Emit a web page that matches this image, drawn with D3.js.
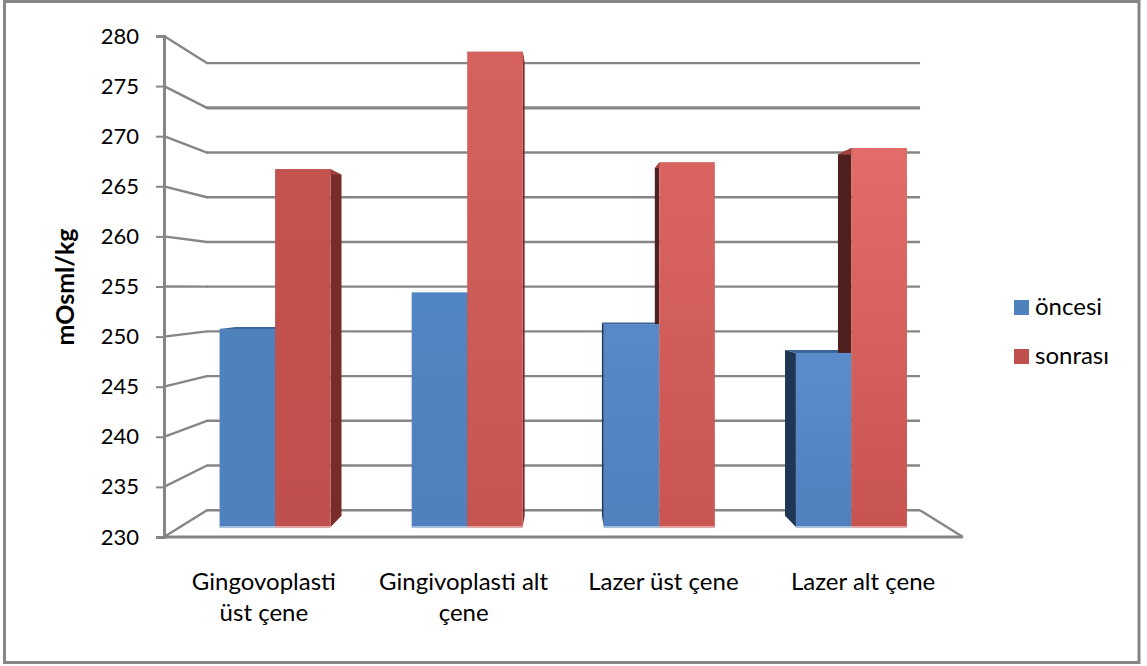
<!DOCTYPE html>
<html>
<head>
<meta charset="utf-8">
<script src="https://cdn.jsdelivr.net/npm/d3@7/dist/d3.min.js"></script>
<style>
html, body { margin: 0; padding: 0; background: #fff; }
svg { display: block; }
text { font-family: Lato, "Open Sans", sans-serif; fill: #000; }
</style>
</head>
<body>
<svg id="chart" width="1147" height="666"></svg>
<script>
// Osmolality before and after treatment, by procedure and jaw.
const categories = ["Gingovoplasti üst çene", "Gingivoplasti alt çene", "Lazer üst çene", "Lazer alt çene"];
const categoryLines = [["Gingovoplasti", "üst çene"], ["Gingivoplasti alt", "çene"], ["Lazer üst çene"], ["Lazer alt çene"]];
const seriesNames = ["öncesi", "sonrası"];
const oncesi = [250.6, 254.4, 251.1, 248.1];
const sonrasi = [267.2, 279.4, 267.9, 269.4];
const yTicks = [230, 235, 240, 245, 250, 255, 260, 265, 270, 275, 280];
const axisTitle = "mOsml/kg";

const svg = d3.select("#chart");

// Scales live on the front plane of the 3-D box; project() pushes them into depth.
const x0 = d3.scaleBand().domain(categories).range([163, 963.5]).paddingInner(0.422).paddingOuter(0.211);
const x1 = d3.scaleBand().domain(seriesNames).range([0, x0.bandwidth()]);
const y = d3.scaleLinear().domain([230, 280]).range([537, 36]);

const vanishX = 563.5, vanishY = 288;
const depthWall = 0.1075, depthBarFront = 0.04, depthBarBack = 0.085;
const project = (px, py, t) => [px + t * (vanishX - px), py + t * (vanishY - py)];
const poly = pts => pts.map(p => p.join(",")).join(" ");

// Outer frame
svg.append("rect").attr("x", 4.5).attr("y", 1.5).attr("width", 1134.5).attr("height", 661)
  .attr("fill", "#fff").attr("stroke", "#868686").attr("stroke-width", 3);

// Gradients for the bar fronts
const defs = svg.append("defs");
const frontFills = [
  [["#4f81bd", "#4f81bd"], ["#c4524f", "#c0504d"]],
  [["#5285c3", "#5080be"], ["#d5615d", "#c65552"]],
  [["#5888c8", "#5080be"], ["#d9645f", "#c95653"]],
  [["#5a8ccb", "#5080be"], ["#e26c67", "#c85450"]]
];
frontFills.forEach((grp, g) => grp.forEach((stops, s) => {
  const lg = defs.append("linearGradient").attr("id", `face-${g}-${s}`)
    .attr("x1", 0).attr("y1", 0).attr("x2", 0).attr("y2", 1);
  lg.append("stop").attr("offset", 0).attr("stop-color", stops[0]);
  lg.append("stop").attr("offset", 1).attr("stop-color", stops[1]);
}));

// Side wall, back wall and floor lines
const gridWidth = v => (v === 275 ? 3.2 : 2.4);
const gridColor = "#868686";
const grid = svg.append("g").attr("fill", "none").attr("stroke", gridColor);
yTicks.forEach(v => {
  const a = [164, y(v)];
  const b = project(164, y(v), depthWall);
  const c = project(963, y(v), depthWall);
  grid.append("line").attr("x1", a[0]).attr("y1", a[1]).attr("x2", b[0]).attr("y2", b[1])
    .attr("stroke-width", 2.4).attr("stroke-linecap", "round");
  grid.append("line").attr("x1", b[0]).attr("y1", b[1]).attr("x2", c[0]).attr("y2", c[1])
    .attr("stroke-width", gridWidth(v));
});
const floorRight = project(963, y(230), depthWall);
grid.append("line").attr("x1", floorRight[0]).attr("y1", floorRight[1])
  .attr("x2", 963).attr("y2", y(230)).attr("stroke-width", 2.4);

// Value axis with its outward ticks
const axis = d3.axisLeft(y).tickValues(yTicks).tickSize(8).tickPadding(17).tickFormat(d3.format("d"));
const axisG = svg.append("g").attr("transform", "translate(164,0)").call(axis);
axisG.select(".domain").attr("stroke", gridColor).attr("stroke-width", 3);
axisG.selectAll(".tick line").attr("stroke", gridColor).attr("stroke-width", 2);
axisG.selectAll(".tick text").style("font-size", "22px").attr("fill", "#000");
svg.append("line").attr("x1", 164).attr("x2", 963).attr("y1", y(230)).attr("y2", y(230))
  .attr("stroke", gridColor).attr("stroke-width", 3);

// Bars: hidden faces first, then the front faces
const barRows = categories.flatMap((c, g) => [
  { c, g, s: 0, name: seriesNames[0], v: oncesi[g] },
  { c, g, s: 1, name: seriesNames[1], v: sonrasi[g] }
]);
const corners = d => {
  const left = x0(d.c) + x1(d.name), right = left + x1.bandwidth();
  const top = y(d.v), bottom = y(230);
  return { left, right, top, bottom };
};
const sideColors = [
  ["#2a4a70", "#772c2a"], ["#2a4a70", "#772c2a"], ["#1f3a5f", "#4f201e"], ["#1f3655", "#4f201e"]
];
const topColors = ["#3c6596", "#a04240"];

const faces = svg.append("g");
barRows.forEach(d => {
  const { left, right, top, bottom } = corners(d);
  const edge = d.g < 2 ? right : left;
  faces.append("polygon").attr("fill", sideColors[d.g][d.s]).attr("points", poly([
    project(edge, top, depthBarFront), project(edge, top, depthBarBack),
    project(edge, bottom, depthBarBack), project(edge, bottom, depthBarFront)
  ]));
  faces.append("polygon").attr("fill", topColors[d.s]).attr("points", poly([
    project(left, top, depthBarFront), project(right, top, depthBarFront),
    project(right, top, depthBarBack), project(left, top, depthBarBack)
  ]));
});
barRows.forEach(d => {
  const { left, right, top, bottom } = corners(d);
  const tl = project(left, top, depthBarFront), br = project(right, bottom, depthBarFront);
  faces.append("rect").attr("x", tl[0]).attr("y", tl[1])
    .attr("width", br[0] - tl[0]).attr("height", br[1] - tl[1])
    .attr("fill", `url(#face-${d.g}-${d.s})`);
  faces.append("rect").attr("x", tl[0]).attr("y", br[1] - 1)
    .attr("width", br[0] - tl[0]).attr("height", 2)
    .attr("fill", d.s === 0 ? "#a9c0de" : "#dfa8a6");
});

// Category labels
const labelX = d3.scaleBand().domain(categories).range([164, 963]);
categories.forEach((c, i) => {
  const t = svg.append("text").attr("text-anchor", "middle").style("font-size", "24px");
  categoryLines[i].forEach((line, k) => {
    t.append("tspan").attr("x", labelX(c) + labelX.bandwidth() / 2).attr("y", 590 + k * 31).text(line);
  });
});

// Axis title
svg.append("text").attr("transform", "translate(74,287) rotate(-90)")
  .attr("text-anchor", "middle").style("font-size", "25px").style("font-weight", 700).text(axisTitle);

// Legend
const legendColors = ["#4f81bd", "#c0504d"];
const legendY = d3.scalePoint().domain(seriesNames).range([308, 357]);
seriesNames.forEach((n, i) => {
  svg.append("rect").attr("x", 1014).attr("y", legendY(n) - 8).attr("width", 15).attr("height", 15).attr("fill", legendColors[i]);
  svg.append("text").attr("x", 1035).attr("y", legendY(n) + 7).style("font-size", "24px").text(n);
});
</script>
</body>
</html>
